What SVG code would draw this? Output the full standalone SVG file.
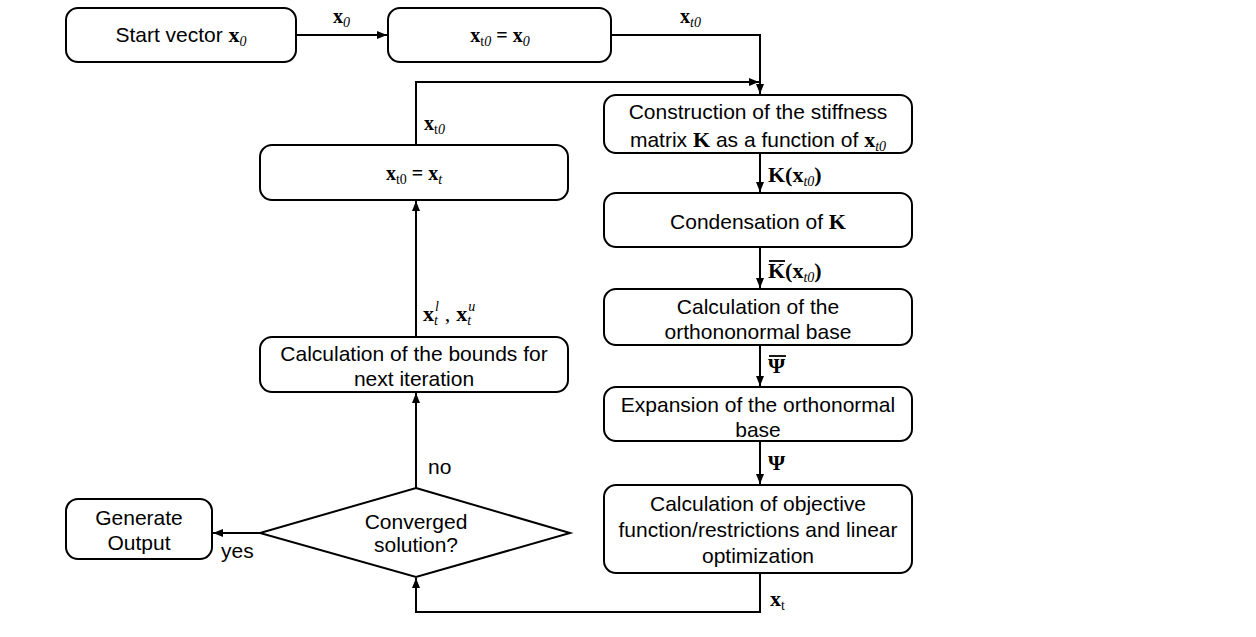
<svg xmlns="http://www.w3.org/2000/svg" width="1256" height="637" viewBox="0 0 1256 637">
<style>
.box{fill:#fff;stroke:#000;stroke-width:2}
.t{font-family:"Liberation Sans",Arial,sans-serif;font-size:21px;fill:#000;text-anchor:middle}
.m{font-family:"Liberation Serif","Times New Roman",serif;font-weight:bold;font-size:20px;fill:#000}
.ml{font-size:22px}
.s{font-family:"Liberation Serif","Times New Roman",serif;font-style:italic;font-weight:normal;font-size:14px}
.sn{font-family:"Liberation Serif","Times New Roman",serif;font-weight:normal;font-size:14px}
.c{fill:none;stroke:#000;stroke-width:2}
.ov{stroke:#000;stroke-width:1.8}
</style>
<defs>
<marker id="ah" markerUnits="userSpaceOnUse" markerWidth="10" markerHeight="10" viewBox="0 0 10 10" refX="10" refY="5" orient="auto">
<path d="M0,1 L10,5 L0,9 Z" fill="#000"/>
</marker>
</defs>
<rect width="1256" height="637" fill="#fff"/>
<g id="connectors">
<line class="c" x1="296" y1="35" x2="387" y2="35" marker-end="url(#ah)"/>
<path class="c" d="M611,35 H760 V94" marker-end="url(#ah)"/>
<path class="c" d="M416,145 V82 H759" marker-end="url(#ah)"/>
<line class="c" x1="760" y1="153" x2="760" y2="192" marker-end="url(#ah)"/>
<line class="c" x1="760" y1="247" x2="760" y2="288" marker-end="url(#ah)"/>
<line class="c" x1="760" y1="345" x2="760" y2="386" marker-end="url(#ah)"/>
<line class="c" x1="760" y1="441" x2="760" y2="484" marker-end="url(#ah)"/>
<path class="c" d="M760,573 V612 H416 V578" marker-end="url(#ah)"/>
<line class="c" x1="416" y1="488" x2="416" y2="393" marker-end="url(#ah)"/>
<line class="c" x1="416" y1="337" x2="416" y2="201" marker-end="url(#ah)"/>
<line class="c" x1="260" y1="533" x2="213" y2="533" marker-end="url(#ah)"/>
<g id="labels">
<text class="m" x="333" y="23">x<tspan class="s" dy="4">0</tspan></text>
<text class="m" x="680" y="23">x<tspan class="s" dy="4">t0</tspan></text>
<text class="m" x="424" y="130">x<tspan class="sn" dy="4">t</tspan><tspan class="s">0</tspan></text>
<text class="m ml" x="768" y="182">K(x<tspan class="s" dy="4">t0</tspan><tspan dy="-4">)</tspan></text>
<text class="m ml" x="768" y="278">K(x<tspan class="s" dy="4">t0</tspan><tspan dy="-4">)</tspan></text>
<line class="ov" x1="769" y1="261" x2="785" y2="261"/>
<text class="m ml" x="768" y="373">Ψ</text>
<line class="ov" x1="769" y1="356" x2="786" y2="356"/>
<text class="m ml" x="768" y="470">Ψ</text>
<text class="m ml" x="770" y="606">x<tspan class="sn" dy="4">t</tspan></text>
<text class="m ml" x="423" y="321">x<tspan class="s" dy="4">t</tspan><tspan class="s" dx="-3" dy="-14">l</tspan><tspan dx="6" dy="10" font-weight="normal">,</tspan><tspan dx="6" dy="0">x</tspan><tspan class="s" dy="4">t</tspan><tspan class="s" dx="-3" dy="-14">u</tspan></text>
<text class="t" x="428" y="474" style="text-anchor:start">no</text>
<text class="t" x="221" y="558" style="text-anchor:start">yes</text>
</g>
</g>
<g id="start">
<rect class="box" x="66" y="8" width="230" height="54" rx="12"/>
<text class="t" x="181" y="42">Start vector <tspan class="m ml">x</tspan><tspan class="m s" dy="4">0</tspan></text>
</g>
<g id="init">
<rect class="box" x="388" y="8" width="223" height="54" rx="12"/>
<text class="m" x="500" y="42" text-anchor="middle">x<tspan class="sn" dy="4">t</tspan><tspan class="s">0</tspan><tspan dy="-4"> = x</tspan><tspan class="s" dy="4">0</tspan></text>
</g>
<g id="construct">
<rect class="box" x="604" y="95" width="308" height="58" rx="12"/>
<text class="t" x="758" y="119">Construction of the stiffness</text>
<text class="t" x="758" y="147">matrix <tspan class="m ml">K</tspan> as a function of <tspan class="m ml">x</tspan><tspan class="m s" dy="4">t0</tspan></text>
</g>
<g id="condense">
<rect class="box" x="604" y="193" width="308" height="54" rx="12"/>
<text class="t" x="758" y="229">Condensation of <tspan class="m ml">K</tspan></text>
</g>
<g id="ortho">
<rect class="box" x="604" y="289" width="308" height="56" rx="12"/>
<text class="t" x="758" y="314">Calculation of the</text>
<text class="t" x="758" y="339">orthononormal base</text>
</g>
<g id="expand">
<rect class="box" x="604" y="387" width="308" height="54" rx="12"/>
<text class="t" x="758" y="412">Expansion of the orthonormal</text>
<text class="t" x="758" y="437">base</text>
</g>
<g id="objective">
<rect class="box" x="604" y="485" width="308" height="88" rx="12"/>
<text class="t" x="758" y="511">Calculation of objective</text>
<text class="t" x="758" y="537">function/restrictions and linear</text>
<text class="t" x="758" y="563">optimization</text>
</g>
<g id="converged">
<polygon class="box" points="416,488 570,533 416,577 260,533"/>
<text class="t" x="416" y="529">Converged</text>
<text class="t" x="416" y="552">solution?</text>
</g>
<g id="output">
<rect class="box" x="66" y="499" width="146" height="60" rx="12"/>
<text class="t" x="139" y="525">Generate</text>
<text class="t" x="139" y="550">Output</text>
</g>
<g id="bounds">
<rect class="box" x="260" y="337" width="308" height="55" rx="12"/>
<text class="t" x="414" y="361">Calculation of the bounds for</text>
<text class="t" x="414" y="386">next iteration</text>
</g>
<g id="update">
<rect class="box" x="260" y="145" width="308" height="55" rx="12"/>
<text class="m" x="414" y="180" text-anchor="middle">x<tspan class="sn" dy="4">t0</tspan><tspan dy="-4"> = x</tspan><tspan class="s" dy="4">t</tspan></text>
</g>
</svg>
